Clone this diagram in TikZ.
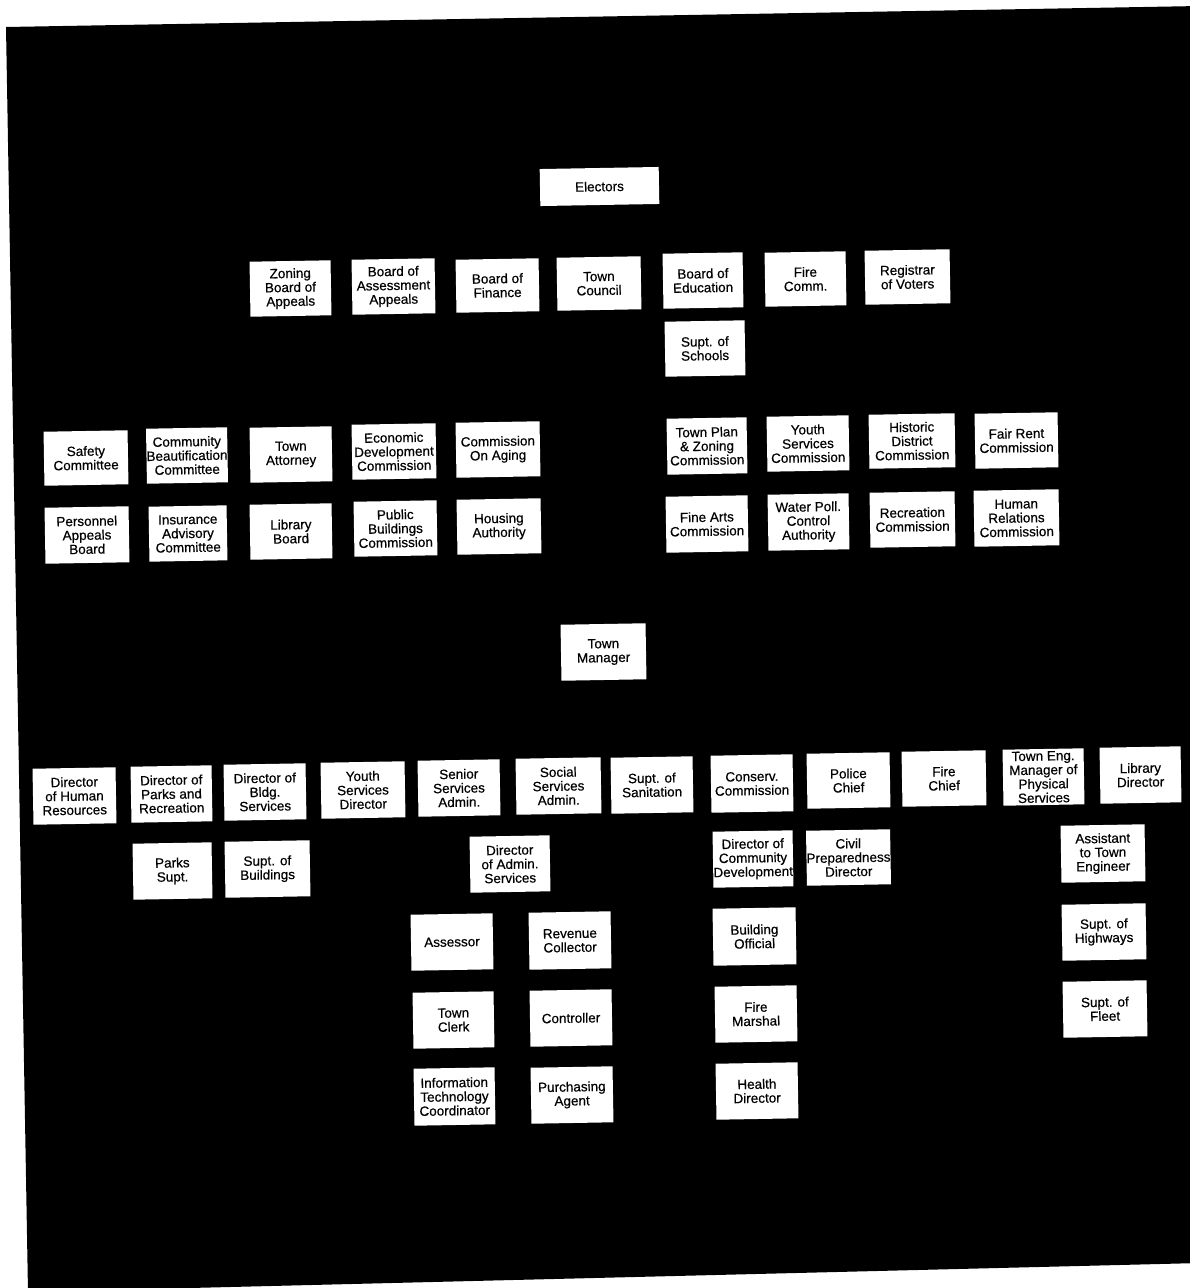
\documentclass[tikz,border=0pt]{standalone}
\usepackage{fontspec}
\newfontfamily\chartfont[FakeBold=0.5]{Liberation Sans}
\newcommand\bx[6]{\node[box, minimum width={(#4-#2)*1pt}, minimum height={(#5-#3)*1pt}] (#1) at ({(#2+#4)/2},{(#3+#5)/2}) {#6};}
\begin{document}
\begin{tikzpicture}[x=1pt,y=-1pt,
  box/.style={fill=white, draw=none, align=center, inner sep=0pt, rotate=1,
    font=\chartfont\fontsize{13.5}{14}\selectfont, text=black}]
\fill[white] (0,0) rectangle (1189,1288);
\useasboundingbox (0,0) rectangle (1189,1288);
\fill[black] (6,27) -- (1200,6) -- (1200,1263) -- (28,1292) -- cycle;
% top
\bx{electors}{540}{168}{659}{205}{Electors}
\bx{zba}{250}{261}{331}{316}{Zoning\\Board of\\Appeals}
\bx{baa}{352}{259}{435}{314}{Board of\\Assessment\\Appeals}
\bx{bof}{456}{259}{539}{312}{Board of\\Finance}
\bx{council}{557}{257}{641}{310}{Town\\Council}
\bx{boe}{663}{253}{743}{308}{Board of\\Education}
\bx{firecomm}{765}{252}{846}{306}{Fire\\Comm.}
\bx{registrar}{865}{250}{950}{304}{Registrar\\of Voters}
\bx{schools}{665}{321}{745}{376}{Supt. of\\Schools}
% left committees
\bx{safety}{44}{431}{128}{485}{Safety\\Committee}
\bx{beaut}{148}{428}{226}{483}{Community\\Beautification\\Committee}
\bx{attorney}{250}{427}{332}{482}{Town\\Attorney}
\bx{econ}{352}{424}{436}{479}{Economic\\Development\\Commission}
\bx{aging}{456}{422}{540}{477}{Commission\\On Aging}
\bx{personnel}{45}{507}{129}{563}{Personnel\\Appeals\\Board}
\bx{insurance}{149}{506}{227}{561}{Insurance\\Advisory\\Committee}
\bx{libboard}{250}{504}{332}{559}{Library\\Board}
\bx{publicbldg}{354}{501}{437}{556}{Public\\Buildings\\Commission}
\bx{housing}{457}{499}{541}{554}{Housing\\Authority}
% right commissions
\bx{tpz}{667}{418}{747}{474}{Town Plan\\\& Zoning\\Commission}
\bx{ysc}{767}{416}{849}{471}{Youth\\Services\\Commission}
\bx{historic}{869}{414}{955}{468}{Historic\\District\\Commission}
\bx{fairrent}{975}{413}{1058}{468}{Fair Rent\\Commission}
\bx{finearts}{666}{496}{748}{552}{Fine Arts\\Commission}
\bx{waterpoll}{768}{494}{849}{550}{Water Poll.\\Control\\Authority}
\bx{recreation}{870}{492}{955}{547}{Recreation\\Commission}
\bx{humanrel}{974}{490}{1059}{546}{Human\\Relations\\Commission}
% manager
\bx{manager}{561}{624}{646}{680}{Town\\Manager}
% departments
\bx{hr}{33}{768}{116}{824}{Director\\of Human\\Resources}
\bx{parksdir}{131}{766}{212}{822}{Director of\\Parks and\\Recreation}
\bx{bldgdir}{224}{764}{306}{820}{Director of\\Bldg.\\Services}
\bx{youthdir}{321}{762}{405}{818}{Youth\\Services\\Director}
\bx{senior}{418}{760}{500}{816}{Senior\\Services\\Admin.}
\bx{social}{516}{758}{601}{814}{Social\\Services\\Admin.}
\bx{sanitation}{611}{757}{693}{813}{Supt. of\\Sanitation}
\bx{conserv}{711}{755}{793}{812}{Conserv.\\Commission}
\bx{police}{807}{753}{890}{808}{Police\\Chief}
\bx{firechief}{902}{751}{986}{806}{Fire\\Chief}
\bx{towneng}{1003}{749}{1084}{805}{Town Eng.\\Manager of\\Physical\\Services}
\bx{libdir}{1100}{747}{1181}{803}{Library\\Director}
% second level
\bx{parkssupt}{133}{843}{212}{899}{Parks\\Supt.}
\bx{bldgsupt}{225}{841}{310}{897}{Supt. of\\Buildings}
\bx{admin}{470}{836}{550}{892}{Director\\of Admin.\\Services}
\bx{commdev}{713}{831}{793}{887}{Director of\\Community\\Development}
\bx{civil}{807}{830}{890}{885}{Civil\\Preparedness\\Director}
\bx{asstteng}{1061}{825}{1145}{882}{Assistant\\to Town\\Engineer}
% admin column
\bx{assessor}{411}{914}{493}{970}{Assessor}
\bx{revenue}{529}{912}{611}{969}{Revenue\\Collector}
\bx{clerk}{413}{992}{494}{1048}{Town\\Clerk}
\bx{controller}{530}{990}{612}{1046}{Controller}
\bx{itc}{414}{1068}{495}{1125}{Information\\Technology\\Coordinator}
\bx{purchasing}{531}{1067}{613}{1123}{Purchasing\\Agent}
% community development column
\bx{building}{713}{908}{796}{965}{Building\\Official}
\bx{marshal}{715}{986}{797}{1042}{Fire\\Marshal}
\bx{health}{716}{1063}{798}{1119}{Health\\Director}
% engineering column
\bx{highways}{1062}{904}{1146}{960}{Supt. of\\Highways}
\bx{fleet}{1063}{981}{1147}{1037}{Supt. of\\Fleet}
\end{tikzpicture}
\end{document}
